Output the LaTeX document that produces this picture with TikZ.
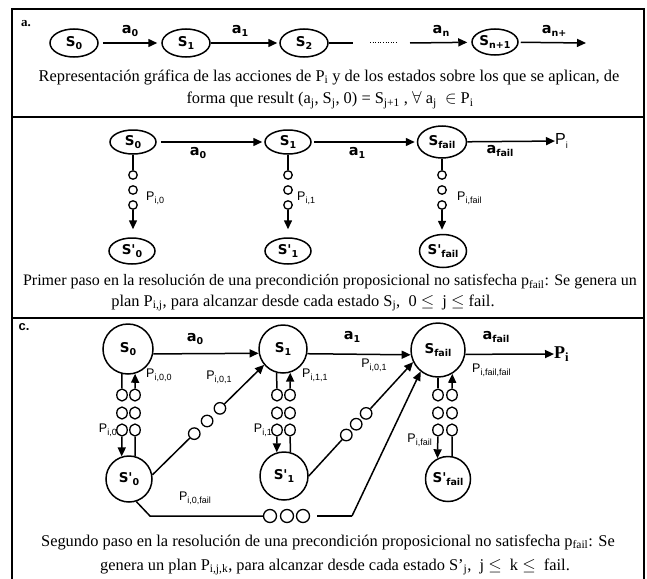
\documentclass[tikz,border=0pt]{standalone}
\usepackage{fontspec}
\setmainfont{Liberation Serif}
\newfontfamily\vbf{DejaVu Sans}
\newfontfamily\arf{Liberation Sans}
\usetikzlibrary{arrows.meta,shapes.geometric,calc}
\newcommand\sbx[1]{\raisebox{-0.35ex}{\fontsize{9.5}{9.5}\selectfont #1}}
\newcommand\sbp[1]{\raisebox{-0.45ex}{\fontsize{9}{9}\selectfont #1}}
\begin{document}
\begin{tikzpicture}[x=1pt,y=-1pt,
  st/.style={ellipse,draw,line width=1.5pt,inner sep=0pt,font=\vbf\bfseries\fontsize{13.5}{13.5}\selectfont},
  sa/.style={st,minimum width=48pt,minimum height=28pt},
  sb/.style={st,minimum width=46pt,minimum height=24pt},
  cs/.style={circle,draw,line width=1.5pt,inner sep=0pt,font=\vbf\bfseries\fontsize{13.5}{13.5}\selectfont},
  bead/.style={circle,draw,line width=1.3pt,inner sep=0pt,minimum size=8.5pt},
  beadc/.style={ellipse,draw,line width=1.3pt,inner sep=0pt,minimum width=10.5pt,minimum height=12pt},
  beadd/.style={circle,draw,line width=1.3pt,inner sep=0pt,minimum size=11.5pt},
  beadh/.style={circle,draw,line width=1.3pt,inner sep=0pt,minimum size=13pt},
  arr/.style={-{Triangle[length=9pt,width=8pt]},line width=1.5pt},
  ln/.style={line width=1.5pt},
  al/.style={font=\vbf\bfseries\fontsize{14.5}{14.5}\selectfont,inner sep=0pt},
  pl/.style={font=\arf\fontsize{12.5}{12.5}\selectfont,inner sep=0pt},
  captxt/.style={font=\fontsize{16.4}{18}\selectfont,inner sep=0pt},
]
\useasboundingbox (0,0) rectangle (647,578);
% frame
\draw[line width=1.3pt] (12,600) -- (12,9) -- (644,9) -- (644,600);
\draw[line width=2.6pt] (12,117) -- (644,117);
\draw[line width=2.6pt] (12,318) -- (644,318);

% ---------------- section a
\node[font=\bfseries\fontsize{13}{13}\selectfont,inner sep=0pt] (la) at (26,24) {a.};
\node[sa] (s0a) at (74,43) {S\sbx{0}};
\node[sa] (s1a) at (186,43) {S\sbx{1}};
\node[sa] (s2a) at (304,43) {S\sbx{2}};
\node[sa,minimum width=46pt,minimum height=26pt] (sna) at (495,42) {S\sbx{n+1}};
\coordinate (e2) at (353,43);
\coordinate (d1) at (370,43);
\coordinate (d2) at (397,43);
\coordinate (en) at (410,43);
\coordinate (ee) at (586,43);
\draw[arr,shorten <=4pt,shorten >=4pt] (s0a) -- (s1a);
\draw[arr,shorten >=2pt] (s1a) -- (s2a);
\draw[ln] (s2a) -- (e2);
\draw[line width=1pt,dash pattern=on 1pt off 1.6pt] (d1) -- (d2);
\draw[arr,shorten >=4pt] (en) -- (sna);
\draw[arr,shorten <=2pt] (sna) -- (ee);
\node[al] (la0) at (130,31) {a\sbx{0}};
\node[al] (la1) at (240,31) {a\sbx{1}};
\node[al] (lan) at (441,31) {a\sbx{n}};
\node[al] (lanp) at (554,31) {a\sbx{n+}};
\node[captxt] (capa1) at (329,77) {Representación gráfica de las acciones de P\textsubscript{i} y de los estados sobre los que se aplican, de};
\node[captxt] (capa2) at (330,100) {forma que result (a\textsubscript{j}, S\textsubscript{j}, 0) = S\textsubscript{j+1} , $\forall$ a\textsubscript{j} \ $\in$ P\textsubscript{i}};

% ---------------- section b
\node[sb] (s0b) at (133,142) {S\sbx{0}};
\node[sb] (s1b) at (288,142) {S\sbx{1}};
\node[st,minimum width=49pt,minimum height=32pt] (sfb) at (442,142) {S\sbx{fail}};
\node[font=\arf\fontsize{16}{16}\selectfont,inner sep=0pt,anchor=west] (pib) at (555,141) {P\sbp{i}};
\draw[arr,shorten <=4pt,shorten >=2pt] (s0b) -- (s1b);
\draw[arr,shorten <=2pt,shorten >=2pt] (s1b) -- (sfb);
\draw[arr] (sfb) -- (pib);
\node[al] (lb0) at (198,153) {a\sbx{0}};
\node[al] (lb1) at (357,153) {a\sbx{1}};
\node[al] (lbf) at (500,151) {a\sbx{fail}};
\node[sb,minimum height=26pt] (s0pb) at (132,251) {S'\sbx{0}};
\node[sb,minimum height=26pt] (s1pb) at (288,251) {S'\sbx{1}};
\node[st,minimum width=47pt,minimum height=33pt] (sfpb) at (443,251) {S'\sbx{fail}};
\foreach \n/\x in {0/133,1/288,f/442}{
  \node[bead] (b\n1) at (\x,175) {};
  \node[bead] (b\n2) at (\x,190) {};
  \node[bead] (b\n3) at (\x,205) {};
}
\draw[ln] (s0b) -- (b01);
\draw[arr,shorten >=8pt] (b03) -- (b03 |- s0pb.north);
\draw[ln] (s1b) -- (b11);
\draw[arr,shorten >=8pt] (b13) -- (b13 |- s1pb.north);
\draw[ln] (sfb) -- (bf1);
\draw[arr,shorten >=4pt] (bf3) -- (bf3 |- sfpb.north);
\node[pl,anchor=west] (pb0) at (146,198) {P\sbp{i,0}};
\node[pl,anchor=west] (pb1) at (297,198) {P\sbp{i,1}};
\node[pl,anchor=west] (pbf) at (457,198) {P\sbp{i,fail}};
\node[captxt,font=\fontsize{16}{18}\selectfont] (capb1) at (330,282) {Primer paso en la resolución de una precondición proposicional no satisfecha p\textsubscript{fail}: Se genera un};
\node[captxt] (capb2) at (303,303) {plan P\textsubscript{i,j}, para alcanzar desde cada estado S\textsubscript{j}, \ 0 $\leq$ \ j $\leq$ fail.};

% ---------------- section c
\node[font=\arf\bfseries\fontsize{13}{13}\selectfont,inner sep=0pt] (lc) at (24,327) {c.};
\node[cs,minimum size=50pt] (s0c) at (128,349) {S\sbx{0}};
\node[cs,minimum size=48pt] (s1c) at (283,349) {S\sbx{1}};
\node[cs,minimum size=54pt] (sfc) at (438,350) {S\sbx{fail}};
\node[cs,minimum size=46pt] (sp0c) at (129,479) {S'\sbx{0}};
\node[cs,minimum size=48pt] (sp1c) at (284,476) {S'\sbx{1}};
\node[cs,minimum size=45pt] (spfc) at (448,479) {S'\sbx{fail}};
\node[font=\bfseries\fontsize{18}{18}\selectfont,inner sep=0pt,anchor=west] (pic) at (554,354) {P\textsubscript{i}};
\draw[arr] (s0c.-11) -- (s1c.190);
\draw[arr] (s1c.-11) -- (sfc.190);
\draw[arr] (sfc.-9) -- (pic);
\node[al] (lc0) at (195,339) {a\sbx{0}};
\node[al] (lc1) at (352,337) {a\sbx{1}};
\node[al] (lcf) at (496,337) {a\sbx{fail}};
% bead columns
\foreach \c/\x in {0L/122,0R/135,1L/277,1R/290,fL/438,fR/452}{
  \node[beadc] (c\c1) at (\x,395) {};
  \node[beadc] (c\c2) at (\x,413) {};
  \node[beadc] (c\c3) at (\x,430) {};
}
\draw[ln] (s0c.256) -- (c0L1);
\draw[arr] (c0L3) -- (sp0c.108);
\draw[ln] (sp0c.75) -- (c0R3);
\draw[arr] (c0R1) -- (s0c.286);
\draw[ln] (s1c.255) -- (c1L1);
\draw[arr] (c1L3) -- (sp1c.107);
\draw[ln] (sp1c.75) -- (c1R3);
\draw[arr] (c1R1) -- (s1c.287);
\draw[ln] (sfc.270) -- (cfL1);
\draw[arr] (cfL3) -- (spfc.117);
\draw[ln] (spfc.80) -- (cfR3);
\draw[arr] (cfR1) -- (sfc.301);
% diagonal S'0 -> S1
\node[beadd] (dA1) at ($(sp0c.10)!0.375!(s1c.220)$) {};
\node[beadd] (dA2) at ($(sp0c.10)!0.49!(s1c.220)$) {};
\node[beadd] (dA3) at ($(sp0c.10)!0.605!(s1c.220)$) {};
\draw[ln] (sp0c.10) -- (dA1);
\draw[arr] (dA3) -- (s1c.220);
% diagonal S'1 -> Sfail
\node[beadd] (dB1) at ($(sp1c.0)!0.36!(sfc.206)$) {};
\node[beadd] (dB2) at ($(sp1c.0)!0.455!(sfc.206)$) {};
\node[beadd] (dB3) at ($(sp1c.0)!0.55!(sfc.206)$) {};
\draw[ln] (sp1c.0) -- (dB1);
\draw[arr] (dB3) -- (sfc.206);
% bottom S'0 -> Sfail
\coordinate (k1) at (150,516);
\coordinate (k2) at (352,516);
\node[beadh] (e1) at (270,516) {};
\node[beadh] (e2b) at (287,516) {};
\node[beadh] (e3) at (303,516) {};
\draw[ln] (sp0c.288) -- (k1) -- (e1);
\draw[ln,shorten <=7pt] (e3) -- (k2);
\draw[arr] (k2) -- (sfc.231);
% labels
\node[pl,anchor=west] (p00) at (146,375) {P\sbp{i,0,0}};
\node[pl,anchor=west] (p11) at (302,375) {P\sbp{i,1,1}};
\node[pl,anchor=west] (pff) at (472,370) {P\sbp{i,fail,fail}};
\node[pl,anchor=east] (p0) at (117,430) {P\sbp{i,0}};
\node[pl,anchor=east] (p1) at (272,430) {P\sbp{i,1}};
\node[pl,anchor=east] (pf) at (432,440) {P\sbp{i,fail}};
\node[pl] (p01a) at (219,377) {P\sbp{i,0,1}};
\node[pl] (p01b) at (374,365) {P\sbp{i,0,1}};
\node[pl] (p0f) at (195,498) {P\sbp{i,0,fail}};
\node[captxt] (capc1) at (328,542) {Segundo paso en la resolución de una precondición proposicional no satisfecha p\textsubscript{fail}: Se};
\node[captxt] (capc2) at (335,567) {genera un plan P\textsubscript{i,j,k}, para alcanzar desde cada estado S’\textsubscript{j}, \ j $\leq$ \ k $\leq$ \ fail.};
\end{tikzpicture}
\end{document}
